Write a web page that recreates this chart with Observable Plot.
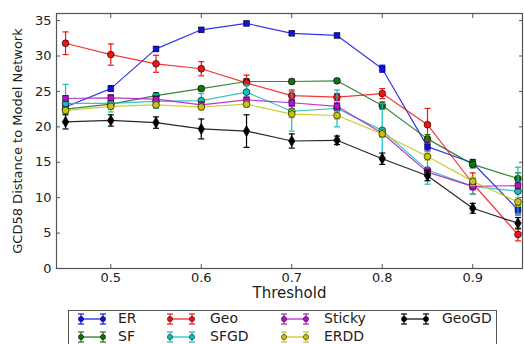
<!DOCTYPE html>
<html>
<head>
<meta charset="utf-8">
<script src="https://cdn.jsdelivr.net/npm/d3@7"></script>
<script src="https://cdn.jsdelivr.net/npm/@observablehq/plot@0.6"></script>
<style>
  body { margin: 0; background: #fff; font-family: "DejaVu Sans", sans-serif; }
  #wrap { position: relative; width: 524px; height: 344px; overflow: hidden; }
  #legend { position: absolute; left: 68px; top: 310px; width: 429px; height: 44px;
            border: 1px solid #555; background: #fff; box-sizing: border-box; }
  .item { position: absolute; height: 16px; }
  .item svg { position: absolute; left: 0; top: 0; }
  .item span { position: absolute; top: -1px; font-size: 14px; line-height: 16px; color: #222; white-space: nowrap; }
</style>
</head>
<body>
<div id="wrap"><div id="chart"></div><div id="legend"></div></div>
<script>
// Threshold values on the x axis
const thresholds = [0.45, 0.5, 0.55, 0.6, 0.65, 0.7, 0.75, 0.8, 0.85, 0.9, 0.95];
const xTicks = [0.5, 0.6, 0.7, 0.8, 0.9];
const yTicks = [0, 5, 10, 15, 20, 25, 30, 35];

// Mean GCD58 distance per model and its error
const erMean     = [22.8, 25.4, 31.0, 33.7, 34.6, 33.2, 32.9, 28.2, 17.2, 14.9, 8.3];
const erErr      = [0.4, 0.4, 0.3, 0.3, 0.3, 0.3, 0.3, 0.5, 0.6, 0.5, 0.6];
const sfMean     = [22.5, 23.2, 24.4, 25.4, 26.4, 26.4, 26.5, 23.0, 18.3, 14.7, 12.7];
const sfErr      = [0.5, 0.4, 0.4, 0.3, 0.4, 0.3, 0.3, 0.5, 0.6, 0.5, 0.8];
const geoMean    = [31.8, 30.2, 28.9, 28.2, 26.2, 24.4, 24.2, 24.7, 20.3, 12.0, 4.8];
const geoErr     = [1.6, 1.5, 1.2, 1.0, 1.1, 0.8, 0.5, 0.7, 2.3, 1.5, 0.9];
const sfgdMean   = [23.3, 23.3, 23.6, 23.7, 24.9, 22.2, 22.6, 19.5, 13.9, 11.6, 10.9];
const sfgdErr    = [2.7, 1.2, 1.0, 1.0, 1.0, 2.8, 2.6, 3.8, 2.0, 1.1, 3.4];
const stickyMean = [24.0, 24.1, 23.9, 23.1, 23.8, 23.4, 22.9, 19.1, 13.6, 11.6, 11.7];
const stickyErr  = [0.4, 0.4, 0.4, 0.4, 0.4, 0.5, 0.5, 0.5, 0.5, 0.5, 0.5];
const erddMean   = [22.3, 22.9, 23.1, 22.8, 23.2, 21.8, 21.6, 19.0, 15.8, 12.3, 9.4];
const erddErr    = [0.4, 0.4, 0.4, 0.4, 0.4, 0.5, 0.5, 0.5, 0.5, 0.6, 0.6];
const geogdMean  = [20.7, 20.9, 20.6, 19.7, 19.4, 18.0, 18.1, 15.5, 13.1, 8.5, 6.4];
const geogdErr   = [1.0, 0.8, 0.8, 1.4, 2.3, 1.0, 0.6, 0.8, 0.7, 0.7, 0.8];

// Drawing order (later series on top)
const seriesNames = ["ER", "SF", "Geo", "SFGD", "Sticky", "ERDD", "GeoGD"];
const seriesMeans = [erMean, sfMean, geoMean, sfgdMean, stickyMean, erddMean, geogdMean];
const seriesErrs  = [erErr, sfErr, geoErr, sfgdErr, stickyErr, erddErr, geogdErr];
const seriesColors = ["#1212e6", "#137213", "#ee1515", "#14bcbc", "#b414c4", "#c4c414", "#000000"];
const seriesSymbols = ["square", "circle", "circle", "circle", "square", "circle", "diamond"];

// Legend layout: four columns, filled column by column
const legendOrder = ["ER", "Geo", "Sticky", "GeoGD", "SF", "SFGD", "ERDD"];

// Short horizontal cap for error bars
const capSymbol = {
  draw(ctx, size) {
    const r = Math.sqrt(size) / 2;
    ctx.moveTo(-r, 0);
    ctx.lineTo(r, 0);
  }
};

const marks = [];
seriesNames.forEach((name, k) => {
  const color = seriesColors[k];
  const rows = thresholds.map((t, i) => ({x: t, y: seriesMeans[k][i], e: seriesErrs[k][i]}));
  marks.push(
    Plot.line(rows, {x: "x", y: "y", stroke: color, strokeWidth: 1.2, strokeOpacity: 0.85}),
    Plot.ruleX(rows, {x: "x", y1: d => d.y - d.e, y2: d => d.y + d.e, stroke: color, strokeWidth: 1.2}),
    Plot.dot(rows, {x: "x", y: d => d.y + d.e, symbol: capSymbol, r: 3.4, stroke: color, fill: "none", strokeWidth: 1.2}),
    Plot.dot(rows, {x: "x", y: d => d.y - d.e, symbol: capSymbol, r: 3.4, stroke: color, fill: "none", strokeWidth: 1.2}),
    Plot.dot(rows, {x: "x", y: "y", symbol: seriesSymbols[k], r: seriesSymbols[k] === "square" ? 3.2 : 3.4,
                    fill: color, stroke: "#000", strokeWidth: 0.6})
  );
});

const chart = Plot.plot({
  width: 524,
  height: 306,
  marginTop: 13,
  marginBottom: 38,
  marginLeft: 56,
  marginRight: 2,
  style: {fontFamily: "DejaVu Sans, sans-serif", fontSize: "13px", color: "#222", background: "#fff"},
  x: {domain: [0.44, 0.955]},
  y: {domain: [0, 36]},
  marks: [
    ...marks,
    Plot.frame({stroke: "#555", strokeWidth: 1.2}),
    // inward tick marks on all four sides
    Plot.axisX(xTicks, {anchor: "bottom", tickSize: -4, tickFormat: () => "", label: null, stroke: "#555"}),
    Plot.axisX(xTicks, {anchor: "top", tickSize: -4, tickFormat: () => "", label: null, stroke: "#555"}),
    Plot.axisY(yTicks, {anchor: "left", tickSize: -4, tickFormat: () => "", label: null, stroke: "#555"}),
    Plot.axisY(yTicks, {anchor: "right", tickSize: -4, tickFormat: () => "", label: null, stroke: "#555"}),
    // tick labels
    Plot.axisX(xTicks, {anchor: "bottom", tickSize: 0, tickPadding: 4, tickFormat: d3.format(".1f"), label: null, fontSize: 13}),
    Plot.axisY(yTicks, {anchor: "left", tickSize: 0, tickPadding: 5, fontSize: 13, label: null}),
    // axis titles
    Plot.axisX([], {anchor: "bottom", tickSize: 0, fontSize: 15,
                    label: "Threshold", labelAnchor: "center", labelArrow: "none", labelOffset: 29}),
    Plot.axisY([], {anchor: "left", tickSize: 0, fontSize: 13,
                    label: "GCD58 Distance to Model Network", labelAnchor: "center", labelArrow: "none", labelOffset: 44})
  ]
});
document.getElementById("chart").appendChild(chart);

// Legend entries: line with two error-bar markers, then the model name
const legend = document.getElementById("legend");
const colX = [9, 98, 212, 332];
const textX = [49, 141, 255, 373];
const rowY = [0, 18];
legendOrder.forEach((name, j) => {
  const k = seriesNames.indexOf(name);
  const col = j % 4, row = Math.floor(j / 4);
  const color = seriesColors[k];
  const item = document.createElement("div");
  item.className = "item";
  item.style.left = colX[col] + "px";
  item.style.top = rowY[row] + "px";
  const svg = d3.create("svg").attr("width", 30).attr("height", 16);
  svg.append("line").attr("x1", 3).attr("x2", 25).attr("y1", 8).attr("y2", 8)
     .attr("stroke", color).attr("stroke-width", 1.2);
  [3, 25].forEach(cx => {
    svg.append("line").attr("x1", cx).attr("x2", cx).attr("y1", 3).attr("y2", 13).attr("stroke", color).attr("stroke-width", 1.2);
    svg.append("line").attr("x1", cx - 3).attr("x2", cx + 3).attr("y1", 3).attr("y2", 3).attr("stroke", color).attr("stroke-width", 1.2);
    svg.append("line").attr("x1", cx - 3).attr("x2", cx + 3).attr("y1", 13).attr("y2", 13).attr("stroke", color).attr("stroke-width", 1.2);
    svg.append("circle").attr("cx", cx).attr("cy", 8).attr("r", 2.6).attr("fill", color).attr("stroke", "#000").attr("stroke-width", 0.5);
  });
  item.appendChild(svg.node());
  const label = document.createElement("span");
  label.textContent = name;
  label.style.left = (textX[col] - colX[col]) + "px";
  item.appendChild(label);
  legend.appendChild(item);
});
</script>
</body>
</html>
